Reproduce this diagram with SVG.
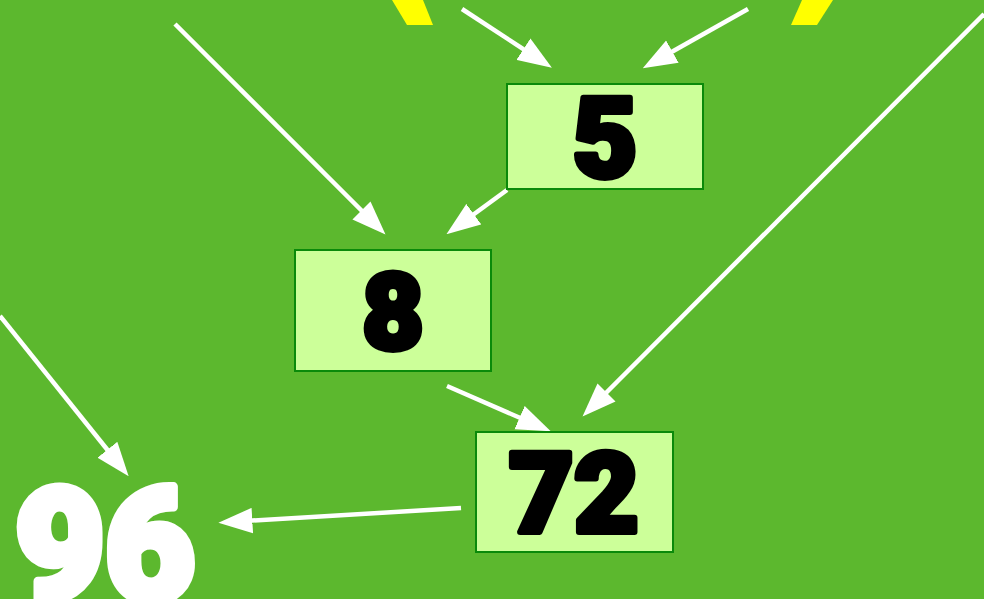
<svg xmlns="http://www.w3.org/2000/svg" width="984" height="599" viewBox="0 0 984 599">
<defs>
<marker id="ah" markerUnits="userSpaceOnUse" markerWidth="34" markerHeight="26" viewBox="0 0 32 24" refX="22" refY="12" orient="auto">
<path d="M0,0 L32,12 L0,24 Z" fill="#ffffff"/>
</marker>
<style>
.box{fill:#ccff99;stroke:#0a8a0a;stroke-width:2}
.lbl{font-family:Roboto,"Liberation Sans",sans-serif;font-weight:900;fill:#000;stroke:#000;stroke-width:6;stroke-linejoin:round;text-anchor:middle}
.edge{stroke:#ffffff;stroke-width:4.5;fill:none;marker-end:url(#ah)}
</style>
</defs>
<rect width="984" height="599" fill="#5cb82e"/>
<g id="paren">
<polygon points="392,0 423,0 433,25 407,25" fill="#ffff00"/>
<polygon points="802,0 833,0 817,25 791,25" fill="#ffff00"/>
</g>
<g id="connectors">
<line class="edge" x1="462" y1="9" x2="543" y2="62"/>
<line class="edge" x1="748" y1="9" x2="652" y2="63"/>
<line class="edge" x1="175" y1="24" x2="378" y2="227"/>
<line class="edge" x1="507" y1="190" x2="455" y2="228"/>
<line class="edge" x1="984" y1="14" x2="590" y2="409"/>
<line class="edge" x1="447" y1="386" x2="541" y2="427"/>
<line class="edge" x1="0" y1="316" x2="122" y2="468"/>
<line class="edge" x1="461" y1="508" x2="229" y2="522"/>
</g>
<g id="n5">
<rect class="box" x="507" y="84" width="196" height="105"/>
<text class="lbl" x="605" y="177" font-size="112">5</text>
</g>
<g id="n8">
<rect class="box" x="295" y="250" width="196" height="121"/>
<text class="lbl" x="393" y="349" font-size="106">8</text>
</g>
<g id="n72">
<rect class="box" x="476" y="432" width="197" height="120"/>
<text class="lbl" x="574" y="532" font-size="112">72</text>
</g>
<g id="n96">
<text x="105" y="600" font-size="158" textLength="180" lengthAdjust="spacingAndGlyphs" font-family="Roboto,'Liberation Sans',sans-serif" font-weight="900" fill="#ffffff" stroke="#ffffff" stroke-width="9" stroke-linejoin="round" text-anchor="middle">96</text>
</g>
</svg>
